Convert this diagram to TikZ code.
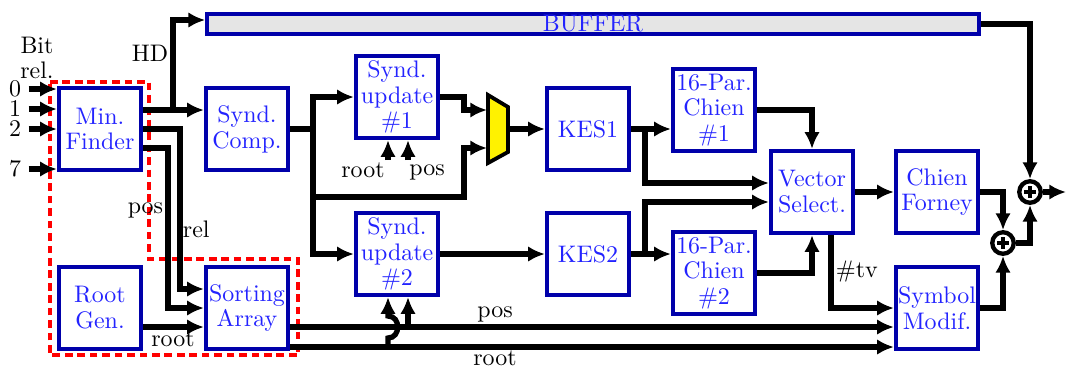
\documentclass[tikz,border=0pt]{standalone}
\usetikzlibrary{
    arrows.meta,        % frecce
    calc,
    positioning
}
\definecolor{boxblue}{RGB}{0,0,170}
\definecolor{txtblue}{RGB}{35,35,255}
\tikzset{
    blk/.style={draw=boxblue, line width=1.55pt, fill=white, text=txtblue,
        minimum width=34.5pt, minimum height=34.5pt, inner sep=1pt, align=center,
        font=\fontsize{10pt}{10.8pt}\selectfont},
    buf/.style={draw=boxblue, line width=1.55pt, fill=gray!20, text=txtblue,
        minimum width=322.7pt, minimum height=8.5pt, inner sep=0pt},
    arr/.style={line width=2.2pt, -{Latex[length=7pt,width=6.5pt]}},
    wire/.style={line width=2.2pt},
    xorc/.style={circle, draw, line width=1.8pt, fill=white, minimum size=9pt, inner sep=0pt},
    reddash/.style={red, line width=1.4pt, dash pattern=on 3.2pt off 2pt},
    lbl/.style={inner sep=1pt, font=\fontsize{10pt}{10.8pt}\selectfont}
}
\begin{document}
\begin{tikzpicture}[x=0.418pt, y=-0.418pt]
    \useasboundingbox (0,0) rectangle (1066,368);

    % zona tratteggiata
    \draw[reddash] (50,82) -- (149,82) -- (149,259) -- (298,259) -- (298,355) -- (50,355) -- cycle;

    % blocchi
    \node[buf] (buf) at (593,24) {BUFFER};
    \node[blk] (mf) at (100,129) {Min.\\Finder};
    \node[blk] (sc) at (247,129) {Synd.\\Comp.};
    \node[blk] (su1) at (397,97) {Synd.\\update\\\#1};
    \node[blk] (su2) at (397,254) {Synd.\\update\\\#2};
    \node[blk] (kes1) at (588,129) {KES1};
    \node[blk] (kes2) at (588,254) {KES2};
    \node[blk] (ch1) at (714,110) {16-Par.\\Chien\\\#1};
    \node[blk] (ch2) at (714,273) {16-Par.\\Chien\\\#2};
    \node[blk] (vs) at (812,192) {Vector\\Select.};
    \node[blk] (cf) at (937,192) {Chien\\Forney};
    \node[blk] (sm) at (937,308) {Symbol\\Modif.};
    \node[blk] (rg) at (100,308) {Root\\Gen.};
    \node[blk] (sa) at (247,308) {Sorting\\Array};

    % multiplexer
    \draw[line width=1.6pt, fill=yellow] (488,95) -- (508,107) -- (508,152) -- (488,163) -- cycle;
    \coordinate (muxa) at (487,110);
    \coordinate (muxb) at (487,148);
    \coordinate (muxo) at (509,129);

    % sommatori
    \node[xorc] (x1) at (1030,192) {};
    \node[xorc] (x2) at (1003,243) {};
    \foreach \n in {x1,x2} {
        \draw[line width=1.7pt] ([xshift=-2.6pt]\n.center) -- ([xshift=2.6pt]\n.center);
        \draw[line width=1.7pt] ([yshift=-2.6pt]\n.center) -- ([yshift=2.6pt]\n.center);
    }

    % ingressi
    \node[lbl, align=center] (bit) at (37,58) {Bit\\rel.};
    \foreach \i/\y in {0/89, 1/109, 2/129, 7/169} {
        \node[lbl, inner sep=0pt] (n\i) at (15,\y) {\i};
        \draw[arr] ([xshift=3pt]n\i.east) -- (mf.west |- n\i);
    }

    % Min. Finder
    \coordinate (hd) at (173,110);
    \draw[arr] (mf.east |- hd) -- (sc.west |- hd);
    \draw[arr] (hd) -- (173,20) -- (buf.west |- 0,20);
    \node[lbl, anchor=east] (hdl) at (171,53) {HD};
    \draw[arr] (mf.east |- 0,129) -| (180,289) -- (sa.west |- 0,289);
    \draw[arr] (mf.east |- 0,148) -| (168,308) -- (sa.west |- 0,308);
    \node[lbl, anchor=east] (posl) at (166,210) {pos};
    \node[lbl, anchor=west] (rell) at (180,229) {rel};
    \draw[arr] (rg.east |- 0,327) -- (sa.west |- 0,327);
    \node[lbl] (rootl) at (173,339) {root};

    % Synd. Comp.
    \coordinate (jsc) at (313,129);
    \draw[wire] (sc.east) -- (jsc);
    \draw[arr] (jsc) |- (su1.west);
    \draw[arr] (jsc) |- (su2.west);
    \draw[arr] (313,197) -- (464,197) -- (464,148) -- (muxb);
    \draw[arr] (su1.east) -| (464,110) -- (muxa);
    \draw[arr] (muxo) -- (kes1.west);
    \draw[arr] (su2.east) -- (kes2.west);

    % ingressi root / pos
    \draw[arr] (388,160) -- (su1.south -| 388,0);
    \draw[arr] (408,160) -- (su1.south -| 408,0);
    \node[lbl] (r1) at (363,170) {root};
    \node[lbl] (p1) at (427,172) {pos};
    \draw[arr] (sa.east |- 0,327) -- (sm.west |- 0,327);
    \draw[arr] (sa.east |- 0,347) -- (sm.west |- 0,347);
    \draw[arr] (408,327) -- (su2.south -| 408,0);
    \draw[arr] (388,347) -- (388,338) .. controls (401,338) and (401,316) .. (388,316) -- (su2.south -| 388,0);
    \node[lbl] (p2) at (495,314) {pos};
    \node[lbl] (r2) at (495,358) {root};

    % KES e Chien
    \coordinate (jk1) at (645,129);
    \coordinate (jk2) at (645,254);
    \draw[arr] (kes1.east) -- (ch1.west |- kes1.east);
    \draw[arr] (jk1) |- (vs.west |- 0,183);
    \draw[arr] (kes2.east) -- (ch2.west |- kes2.east);
    \draw[arr] (jk2) |- (vs.west |- 0,202);
    \draw[arr] (ch1.east) -| (vs.north);
    \draw[arr] (ch2.east) -| (vs.south);

    % uscita
    \draw[arr] (vs.east) -- (cf.west);
    \draw[arr] (vs.south -| 831,0) |- (sm.west);
    \node[lbl, anchor=west] (tv) at (833,272) {\#tv};
    \draw[arr] (cf.east) -| (x2.north);
    \draw[arr] (sm.east) -| (x2.south);
    \draw[arr] (x2.east) -| (x1.south);
    \draw[arr] (buf.east) -| (x1.north);
    \coordinate (out) at (1066,192);
    \draw[arr] (x1.east) -- (out);

\end{tikzpicture}
\end{document}
